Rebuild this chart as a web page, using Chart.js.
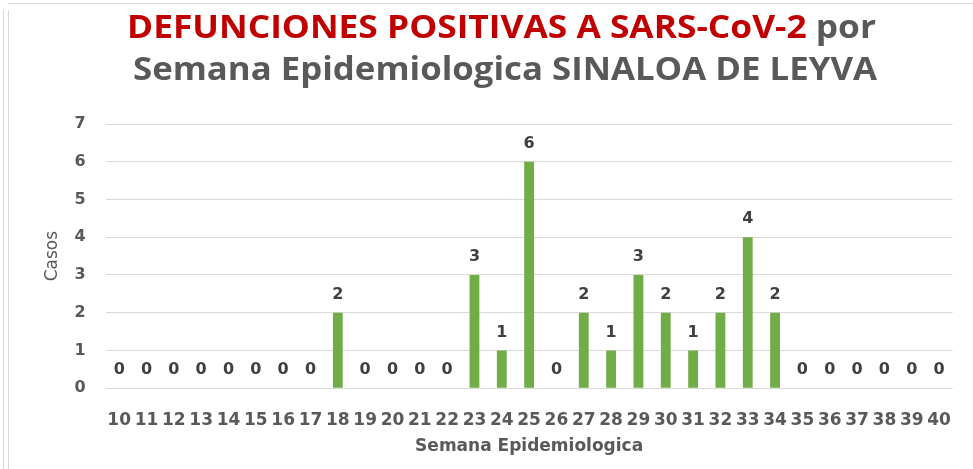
<!DOCTYPE html>
<html>
<head>
<meta charset="utf-8">
<script src="https://cdn.jsdelivr.net/npm/chart.js@4.4.1/dist/chart.umd.min.js"></script>
<style>
  html, body { margin: 0; padding: 0; background: #fff; }
  #grafica { display: block; }
</style>
</head>
<body>
<canvas id="grafica" width="973" height="469"></canvas>
<script>
// Semanas epidemiologicas y defunciones por semana
const semanas = ['10','11','12','13','14','15','16','17','18','19','20','21','22','23','24','25',
                 '26','27','28','29','30','31','32','33','34','35','36','37','38','39','40'];
const defunciones = [0,0,0,0,0,0,0,0,2,0,0,0,0,3,1,6,0,2,1,3,2,1,2,4,2,0,0,0,0,0,0];

const tituloRojo = 'DEFUNCIONES POSITIVAS A SARS-CoV-2';
const tituloGris = ' por';
const subtitulo = 'Semana Epidemiologica SINALOA DE LEYVA';

const VERDE = '#70AD47';
const GRIS = '#595959';
const ROJO = '#C00000';

// marco gris claro del recuadro
const marco = {
    id: 'marco',
    beforeDraw(chart) {
        const ctx = chart.ctx;
        ctx.save();
        ctx.strokeStyle = '#D9D9D9';
        ctx.lineWidth = 1;
        ctx.beginPath();
        ctx.moveTo(8, 3.5); ctx.lineTo(973, 3.5);
        ctx.moveTo(3.5, 10); ctx.lineTo(3.5, 469);
        ctx.moveTo(8.5, 10); ctx.lineTo(8.5, 469);
        ctx.stroke();
        ctx.restore();
    }
};

// titulo en dos colores, ajustado al ancho
const tituloDoble = {
    id: 'tituloDoble',
    afterDraw(chart) {
        const ctx = chart.ctx;
        ctx.save();
        ctx.font = 'bold 33px "Open Sans"';
        ctx.textBaseline = 'alphabetic';
        ctx.textAlign = 'left';

        const wRojo = ctx.measureText(tituloRojo).width;
        const wGris = ctx.measureText(tituloGris).width;
        let sx = 749 / (wRojo + wGris);
        ctx.save();
        ctx.translate(127, 38);
        ctx.scale(sx, 1);
        ctx.fillStyle = ROJO;
        ctx.fillText(tituloRojo, 0, 0);
        ctx.fillStyle = GRIS;
        ctx.fillText(tituloGris, wRojo, 0);
        ctx.restore();

        const wSub = ctx.measureText(subtitulo).width;
        sx = 744 / wSub;
        ctx.translate(133, 80);
        ctx.scale(sx, 1);
        ctx.fillStyle = GRIS;
        ctx.fillText(subtitulo, 0, 0);
        ctx.restore();
    }
};

// valor encima de cada barra
const etiquetas = {
    id: 'etiquetas',
    afterDatasetsDraw(chart) {
        const ctx = chart.ctx;
        const meta = chart.getDatasetMeta(0);
        ctx.save();
        ctx.font = 'bold 16px "DejaVu Sans"';
        ctx.fillStyle = '#404040';
        ctx.textAlign = 'center';
        ctx.textBaseline = 'middle';
        meta.data.forEach((bar, i) => {
            ctx.fillText(String(defunciones[i]), bar.x, bar.y - 18);
        });
        ctx.restore();
    }
};

new Chart(document.getElementById('grafica'), {
    type: 'bar',
    data: {
        labels: semanas,
        datasets: [{
            label: 'Defunciones',
            data: defunciones,
            backgroundColor: VERDE,
            barPercentage: 0.36,
            categoryPercentage: 1
        }]
    },
    options: {
        responsive: false,
        animation: false,
        layout: { padding: { top: 124, left: 42, right: 8, bottom: 12 } },
        plugins: {
            legend: { display: false },
            tooltip: { enabled: false }
        },
        scales: {
            x: {
                grid: { display: false, drawTicks: false },
                border: { display: false },
                ticks: {
                    color: GRIS,
                    font: { family: 'DejaVu Sans', weight: 'bold', size: 17 },
                    padding: 22,
                    maxRotation: 0,
                    autoSkip: false
                },
                title: {
                    display: true,
                    text: 'Semana Epidemiologica',
                    color: GRIS,
                    font: { family: 'DejaVu Sans', weight: 'bold', size: 17 },
                    padding: { top: -16, bottom: 0 }
                }
            },
            y: {
                min: 0,
                max: 7,
                grid: { color: '#D9D9D9', drawTicks: false },
                border: { display: false },
                ticks: {
                    stepSize: 1,
                    color: GRIS,
                    font: { family: 'DejaVu Sans', weight: 'bold', size: 16 },
                    padding: 20
                },
                title: {
                    display: true,
                    text: 'Casos',
                    color: GRIS,
                    font: { family: 'DejaVu Sans', size: 17 },
                    padding: { top: 0, bottom: -8 }
                }
            }
        }
    },
    plugins: [marco, tituloDoble, etiquetas]
});
</script>
</body>
</html>
